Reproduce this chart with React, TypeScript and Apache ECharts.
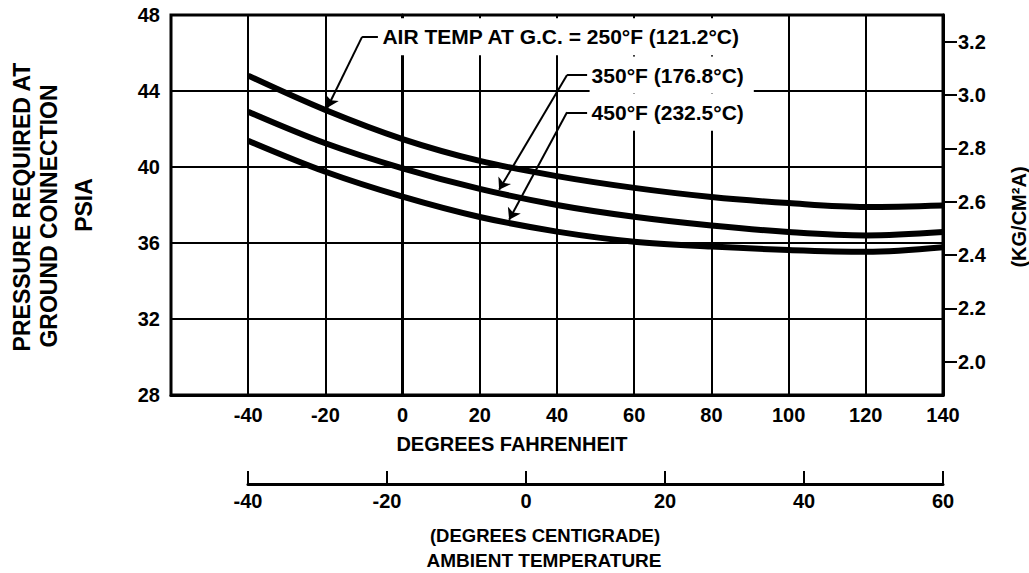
import React, { useEffect, useRef } from "react";
import * as echarts from "echarts";

// ---- data ----
const tempF = [-40, -20, 0, 20, 40, 60, 80, 100, 120, 140];
const psi250 = [44.81, 43.0, 41.47, 40.32, 39.52, 38.9, 38.42, 38.1, 37.9, 37.98];
const psi350 = [42.91, 41.25, 39.93, 38.85, 38.0, 37.38, 36.92, 36.58, 36.4, 36.58];
const psi450 = [41.38, 39.75, 38.44, 37.37, 36.6, 36.07, 35.81, 35.63, 35.54, 35.78];

const fahrenheitRange = [-60, 140];
const psiTicks = [28, 32, 36, 40, 44, 48];
const kgRange = [1.875, 3.3];
const kgTicks = [2.0, 2.2, 2.4, 2.6, 2.8, 3.0, 3.2];
const celsiusTicks = [-40, -20, 0, 20, 40, 60];

const labels250 = "AIR TEMP AT G.C. = 250°F (121.2°C)";
const labels350 = "350°F (176.8°C)";
const labels450 = "450°F (232.5°C)";

// annotation anchors in data coordinates [°F, psia]
const annot = [
  { text: labels250, tip: [-19.5, 43.12], corner: [-10.5, 46.85], end: [-6.4, 46.85] },
  { text: labels350, tip: [25.0, 38.8], corner: [42.6, 44.84], end: [47.8, 44.84] },
  { text: labels450, tip: [27.6, 37.22], corner: [42.6, 42.88], end: [47.8, 42.88] },
];

const FONT = "'Liberation Sans', Arial, Helvetica, sans-serif";

function zip(xs: number[], ys: number[]) {
  return xs.map((x, i) => [x, ys[i]]);
}

function curveSeries(name: string, ys: number[], a: typeof annot[number]) {
  return {
    name,
    type: "line",
    xAxisIndex: 0,
    yAxisIndex: 0,
    smooth: 0.35,
    showSymbol: false,
    silent: true,
    z: 3,
    lineStyle: { color: "#000", width: 6 },
    data: zip(tempF, ys),
    markLine: {
      silent: true,
      animation: false,
      symbol: ["none", "arrow"],
      symbolSize: 11,
      label: { show: false },
      lineStyle: { color: "#000", width: 2, type: "solid" },
      emphasis: { disabled: true },
      data: [
        [
          { coord: a.corner, symbol: "none" },
          { coord: a.tip, symbol: "arrow" },
        ],
        [
          { coord: a.corner, symbol: "none" },
          { coord: a.end, symbol: "none" },
        ],
      ],
    },
    markPoint: {
      silent: true,
      animation: false,
      symbol: "circle",
      symbolSize: 1,
      itemStyle: { color: "rgba(0,0,0,0)" },
      label: {
        show: true,
        position: "right",
        distance: 2,
        formatter: a.text,
        color: "#000",
        fontSize: 21,
        fontWeight: "bold",
        fontFamily: FONT,
        backgroundColor: "#fff",
        padding: [8, 10, 8, 2],
      },
      data: [{ coord: a.end }],
    },
  };
}

function titleText(text: string, x: number, y: number, size: number, rotated: boolean) {
  return {
    type: "text",
    x,
    y,
    rotation: rotated ? Math.PI / 2 : 0,
    style: {
      text,
      fill: "#000",
      font: `bold ${size}px ${FONT}`,
      align: "center",
      verticalAlign: "middle",
    },
  };
}

export default function App() {
  const ref = useRef<HTMLDivElement>(null);

  useEffect(() => {
    document.body.style.margin = "0";
    if (!ref.current) return;
    const chart = echarts.init(ref.current, null, { renderer: "svg" });

    const labelStyle = { color: "#000", fontSize: 20, fontWeight: "bold", fontFamily: FONT };

    chart.setOption({
      animation: false,
      backgroundColor: "#fff",
      textStyle: { fontFamily: FONT, color: "#000" },
      grid: [
        {
          left: 171,
          top: 15,
          width: 772,
          height: 380,
          show: true,
          borderColor: "#000",
          borderWidth: 3,
          backgroundColor: "transparent",
          containLabel: false,
        },
        { left: 248, top: 484, width: 695, height: 0, containLabel: false },
      ],
      xAxis: [
        {
          type: "value",
          gridIndex: 0,
          min: fahrenheitRange[0],
          max: fahrenheitRange[1],
          interval: 20,
          axisLine: { show: true, lineStyle: { color: "#000", width: 3 } },
          axisTick: { show: false },
          axisLabel: {
            ...labelStyle,
            margin: 10,
            formatter: (v: number) => (v === fahrenheitRange[0] ? "" : String(v)),
          },
          splitLine: { show: true, lineStyle: { color: "#000", width: 2 } },
        },
        {
          type: "value",
          gridIndex: 1,
          position: "bottom",
          min: celsiusTicks[0],
          max: celsiusTicks[celsiusTicks.length - 1],
          interval: 20,
          axisLine: { show: true, lineStyle: { color: "#000", width: 3 } },
          axisTick: { show: true, inside: true, length: 13, lineStyle: { color: "#000", width: 2 } },
          axisLabel: { ...labelStyle, margin: 7 },
          splitLine: { show: false },
        },
      ],
      yAxis: [
        {
          type: "value",
          gridIndex: 0,
          position: "left",
          min: psiTicks[0],
          max: psiTicks[psiTicks.length - 1],
          interval: 4,
          axisLine: { show: true, lineStyle: { color: "#000", width: 3 } },
          axisTick: { show: false },
          axisLabel: { ...labelStyle, margin: 11 },
          splitLine: { show: true, lineStyle: { color: "#000", width: 2 } },
        },
        {
          type: "value",
          gridIndex: 0,
          position: "right",
          min: kgRange[0],
          max: kgRange[1],
          axisLine: { show: true, lineStyle: { color: "#000", width: 3 } },
          axisTick: {
            show: true,
            length: 14,
            customValues: kgTicks,
            lineStyle: { color: "#000", width: 2 },
          },
          axisLabel: {
            ...labelStyle,
            margin: 15,
            customValues: kgTicks,
            formatter: (v: number) => v.toFixed(1),
          },
          splitLine: { show: false },
        },
        {
          type: "value",
          gridIndex: 1,
          show: false,
          min: 0,
          max: 1,
        },
      ],
      graphic: [
        titleText("PRESSURE REQUIRED AT", 21.5, 207, 23, true),
        titleText("GROUND CONNECTION", 48.5, 216, 23, true),
        titleText("PSIA", 84, 205, 23, true),
        titleText("(KG/CM²A)", 1019, 217, 20, true),
        titleText("DEGREES FAHRENHEIT", 512, 443.5, 20, false),
        titleText("(DEGREES CENTIGRADE)", 545, 535, 18.5, false),
        titleText("AMBIENT TEMPERATURE", 544, 560, 19, false),
      ],
      series: [
        curveSeries("250°F", psi250, annot[0]),
        curveSeries("350°F", psi350, annot[1]),
        curveSeries("450°F", psi450, annot[2]),
        {
          type: "line",
          xAxisIndex: 1,
          yAxisIndex: 2,
          data: [],
          silent: true,
        },
      ],
    });

    return () => chart.dispose();
  }, []);

  return <div ref={ref} style={{ width: 1029, height: 573 }} />;
}
